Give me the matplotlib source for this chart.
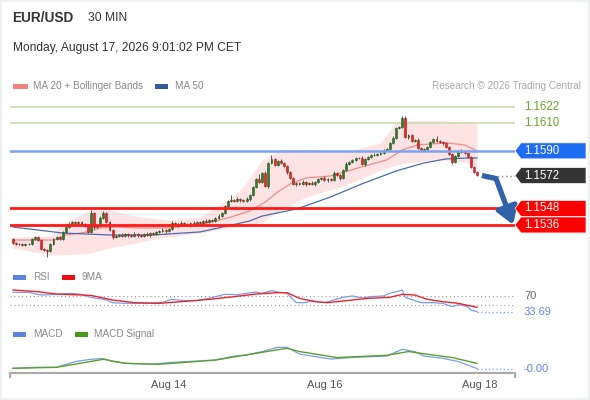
import numpy as np
import matplotlib.pyplot as plt
import matplotlib.transforms as mtransforms
from matplotlib.patches import Polygon, Rectangle

plt.rcParams['font.family'] = ['Liberation Sans', 'DejaVu Sans']

W, H = 590, 400

# ---- data ----
closes = [
    1.15228, 1.15221, 1.15221, 1.15214, 1.15221, 1.15221, 1.15258, 1.15272, 1.15250, 1.15185,
    1.15177, 1.15170, 1.15221, 1.15258, 1.15272, 1.15258, 1.15309, 1.15345, 1.15367, 1.15382,
    1.15374, 1.15382, 1.15367, 1.15353, 1.15309, 1.15447, 1.15345, 1.15353, 1.15411, 1.15447,
    1.15382, 1.15323, 1.15272, 1.15279, 1.15287, 1.15279, 1.15294, 1.15287, 1.15279, 1.15294,
    1.15287, 1.15279, 1.15294, 1.15287, 1.15301, 1.15294, 1.15309, 1.15316, 1.15323, 1.15316,
    1.15331, 1.15374, 1.15367, 1.15360, 1.15374, 1.15367, 1.15360, 1.15374, 1.15367, 1.15382,
    1.15374, 1.15389, 1.15382, 1.15396, 1.15389, 1.15411, 1.15425, 1.15447, 1.15498, 1.15535,
    1.15542, 1.15535, 1.15549, 1.15542, 1.15535, 1.15549, 1.15578, 1.15637, 1.15695, 1.15673,
    1.15739, 1.15644, 1.15812, 1.15841, 1.15797, 1.15826, 1.15812, 1.15790, 1.15746, 1.15702,
    1.15659, 1.15666, 1.15659, 1.15673, 1.15659, 1.15666, 1.15659, 1.15673, 1.15695, 1.15702,
    1.15688, 1.15695, 1.15688, 1.15739, 1.15724, 1.15702, 1.15761, 1.15804, 1.15819, 1.15834,
    1.15848, 1.15848, 1.15804, 1.15841, 1.15856, 1.15870, 1.15870, 1.15877, 1.15885, 1.15907,
    1.15914, 1.15958, 1.15994, 1.16067, 1.16074, 1.16140, 1.16001, 1.16016, 1.15972, 1.15979,
    1.15921, 1.15907, 1.15914, 1.15928, 1.15965, 1.15987, 1.15972, 1.15965, 1.15958, 1.15928,
    1.15877, 1.15819, 1.15863, 1.15899, 1.15892, 1.15885, 1.15856, 1.15783, 1.15746, 1.15724,
]
first_open = 1.15258

# wick lengths in pips beyond the candle body
upper_wick = [
    1, 0.5, 1, 0.5, 1, 0.5, 1, 1, 0.5, 1,
    0.5, 1, 1, 1, 0.5, 1, 1, 1, 1.5, 1,
    1, 1, 0.5, 1, 0.5, 2, 1, 1, 1.5, 1.5,
    1, 0.5, 1, 1, 1, 1.5, 1, 1, 1, 1.5,
    1, 1, 1, 1.5, 1, 1, 1, 1, 1.5, 1,
    1, 1.5, 1, 1, 1.5, 1, 1, 1, 1.5, 1,
    1, 1, 1.5, 1, 1, 1, 1.5, 1, 1, 1,
    3.5, 1, 1.5, 1, 1, 1.5, 1, 1, 1, 3.5,
    1, 1.5, 1, 3, 1, 1, 1.5, 1, 1, 1,
    1, 1, 1, 1.5, 1, 1, 1.5, 1, 1, 1,
    1.5, 1, 1, 1.5, 1, 1, 1, 1.5, 1, 1,
    1, 1, 1.5, 1, 1, 1, 1.5, 1, 1, 1,
    1, 1, 1.5, 1, 1, 1.5, 1.5, 1, 1, 1,
    1.5, 1, 1, 1, 1, 1, 2, 1, 1, 1,
    1, 1, 1, 1, 1.5, 1, 1, 1, 1, 1,
]
lower_wick = [
    1, 1, 0.5, 1, 1, 1, 0.5, 1, 1, 1,
    1, 4.5, 1, 1, 1, 1, 1, 0.5, 1, 1,
    1, 1, 1, 1, 1, 1, 1.5, 1, 1, 1,
    1, 1, 1.5, 1, 1, 1, 1, 1.5, 1, 1,
    1.5, 1, 1, 1, 1.5, 1, 1, 1, 1, 1.5,
    1, 1, 1, 1.5, 1, 1, 1, 1.5, 1, 1,
    1, 1.5, 1, 1, 1, 1, 1, 1, 1, 1,
    1, 1, 1, 1.5, 1, 1, 1.5, 1, 1, 1,
    1, 1, 1.5, 1, 1, 1, 1, 1, 1.5, 1,
    1, 1.5, 1, 1, 1.5, 1, 1, 1.5, 1, 1,
    1, 1.5, 1, 1, 1, 1.5, 1, 1, 1, 1,
    1, 1, 1, 1.5, 1, 1, 1, 1, 1, 1,
    1, 1, 1, 1, 1, 1, 1, 1.5, 1, 1,
    1, 1.5, 1, 1, 1, 1, 1, 1, 1.5, 1,
    1, 1.5, 1, 1, 1, 1, 1, 1, 1, 1,
]

ma20_idx = [0, 13, 17, 24, 28, 33, 41, 49, 60, 70, 76, 81, 85, 89, 94, 102, 112, 120, 125, 130, 139, 145, 149]
ma20_val = [1.15250, 1.15250, 1.15287, 1.15309, 1.15338, 1.15345, 1.15338, 1.15338, 1.15360, 1.15418,
            1.15462, 1.15527, 1.15600, 1.15659, 1.15702, 1.15717, 1.15783, 1.15834, 1.15907, 1.15943,
            1.15958, 1.15943, 1.15899]

ma50_idx = [0, 16, 31, 45, 60, 69, 76, 80, 91, 102, 112, 123, 132, 139, 146, 149]
ma50_val = [1.15345, 1.15301, 1.15287, 1.15287, 1.15309, 1.15353, 1.15389, 1.15425, 1.15476, 1.15564,
            1.15659, 1.15753, 1.15812, 1.15841, 1.15848, 1.15848]

bb_idx = [0, 12, 17, 25, 31, 39, 49, 60, 69, 73, 76, 80, 86, 92, 96, 107, 118, 123, 127, 134, 137, 145, 149]
bb_upper = [1.15272, 1.15279, 1.15382, 1.15469, 1.15469, 1.15425, 1.15396, 1.15418, 1.15542, 1.15615,
            1.15702, 1.15834, 1.15907, 1.15907, 1.15907, 1.15892, 1.15958, 1.16111, 1.16119, 1.16119,
            1.16119, 1.16111, 1.16103]
bb_lower = [1.15192, 1.15141, 1.15141, 1.15156, 1.15192, 1.15228, 1.15272, 1.15301, 1.15338, 1.15345,
            1.15353, 1.15382, 1.15469, 1.15542, 1.15578, 1.15651, 1.15761, 1.15797, 1.15812, 1.15834,
            1.15834, 1.15819, 1.15783]

rsi_idx = [0, 5, 9, 14, 19, 22, 25, 27, 30, 32, 36, 44, 48, 51, 55, 59, 63, 68, 72, 75,
           78, 80, 83, 85, 88, 91, 94, 96, 100, 103, 106, 109, 112, 115, 119, 121, 124, 125, 126, 129,
           131, 135, 138, 141, 143, 146, 147, 149]
rsi_val = [78.5, 78.5, 72.3, 73.9, 76.2, 73.9, 66.9, 64.6, 60.7, 54.6, 53.0, 53.0, 55.3, 62.3, 59.2, 59.2,
           64.6, 73.9, 73.1, 76.2, 79.3, 76.2, 82.3, 79.3, 76.2, 54.6, 54.6, 59.2, 54.6, 60.7, 66.9, 70.0,
           65.4, 68.5, 70.0, 76.2, 81.6, 83.9, 66.9, 59.2, 54.6, 54.6, 53.0, 45.3, 49.9, 45.3, 37.6, 33.69]

rsi_ma_idx = [0, 8, 14, 25, 32, 39, 47, 54, 63, 71, 78, 85, 88, 92, 97, 101, 107, 114, 121, 125, 129, 133, 138, 143, 149]
rsi_ma_val = [83.9, 80.0, 74.6, 71.5, 60.7, 54.6, 53.0, 56.9, 62.3, 68.5, 74.6, 77.7, 77.7, 64.6, 56.9,
              54.6, 59.2, 64.6, 66.9, 73.9, 72.3, 62.3, 56.9, 53.0, 43.8]

macd_idx = [0, 8, 14, 20, 25, 29, 32, 36, 44, 50, 56, 65, 71, 75, 80, 85, 88, 92, 97, 102,
            110, 120, 125, 129, 132, 138, 143, 149]
macd_val = [0.0, 0.00004, 0.00004, 0.00027, 0.00036, 0.00039, 0.00027, 0.00020, 0.00016, 0.00023,
            0.00027, 0.00033, 0.00049, 0.00053, 0.00067, 0.00084, 0.00084, 0.00057, 0.00047, 0.00037,
            0.00044, 0.00049, 0.00076, 0.00067, 0.00049, 0.00040, 0.00027, -0.00001]

signal_idx = [0, 14, 29, 36, 47, 65, 78, 88, 92, 104, 120, 127, 135, 141, 149]
signal_val = [0.0, 0.00004, 0.00036, 0.00020, 0.00016, 0.00033, 0.00060, 0.00080, 0.00067, 0.00043,
              0.00052, 0.00067, 0.00053, 0.00043, 0.00020]

resistances = [1.1622, 1.1610]
pivot = 1.1590
last_price = 1.1572
supports = [1.1548, 1.1536]
rsi_levels = [70, 50]
rsi_last = 33.69
macd_last = -0.00001
date_pos = [50, 100, 150]
date_labels = ['Aug 14', 'Aug 16', 'Aug 18']


def fx(px):
    return px / W


def fy(py):
    return 1 - py / H


fig = plt.figure(figsize=(5.9, 4.0), dpi=100)
fig.patch.set_facecolor('white')
fig.add_artist(Rectangle((0, 0), 1, 1, transform=fig.transFigure, fill=False,
                         edgecolor='#eef1f4', lw=3))


def panel(top, bottom):
    return fig.add_axes([fx(10), fy(bottom), fx(515) - fx(10), fy(top) - fy(bottom)])


XLIM = (-0.96, 161.2)
ax = panel(95, 262)
ax_rsi = panel(285, 320)
ax_macd = panel(340, 372.7)

# ---- price panel ----
c = np.array(closes)
o = np.concatenate([[first_open], c[:-1]])
idx = np.arange(len(c))
hi = np.maximum(o, c) + np.array(upper_wick) * 0.0001
lo = np.minimum(o, c) - np.array(lower_wick) * 0.0001
up = c >= o

ax.fill_between(bb_idx, bb_lower, bb_upper, color='#fde3e3', lw=0, zorder=1)
for lv in resistances:
    ax.axhline(lv, color='#cddfb5', lw=1.3, zorder=2)
ax.plot(ma20_idx, ma20_val, color='#f38a8a', lw=0.9, zorder=3)
ax.plot(ma50_idx, ma50_val, color='#4a6cb0', lw=0.9, zorder=3)

ax.vlines(idx, lo, hi, color='#555555', lw=0.7, zorder=4)
ax.bar(idx, np.maximum(np.abs(c - o), 0.00003), bottom=np.minimum(o, c), width=0.62,
       color=np.where(up, '#2e7b2e', '#e3261f'),
       edgecolor=np.where(up, '#1f5a1f', '#b01a15'), linewidth=0.4, zorder=5)

ax.axhline(pivot, color='#7aa3f2', lw=1.8, zorder=6)
for lv in supports:
    ax.axhline(lv, color='#ff1a1a', lw=2.0, zorder=6)

n = len(closes)
ax.plot([n + 3, XLIM[1]], [last_price, last_price], ls=(0, (1, 2)), color='#888888', lw=1, zorder=6)

# forecast arrow from the last close down to the lower support
arrow_col = '#2f62a8'
knee = (n + 5.1, last_price - 0.00022)
ax.plot([n + 0.6, knee[0]], [last_price, knee[1]], color=arrow_col, lw=3.8,
        solid_capstyle='butt', zorder=7, clip_on=False)
ax.annotate('', xy=(n + 10.6, supports[1] + 0.00002), xytext=knee,
            arrowprops=dict(arrowstyle='-|>,head_length=0.5,head_width=0.32', color=arrow_col,
                            lw=3.8, shrinkA=0, shrinkB=0, mutation_scale=20),
            annotation_clip=False, zorder=7)

ax.set_xlim(*XLIM)
ax.set_ylim(1.15090, 1.16307)
ax.axis('off')

trans = mtransforms.blended_transform_factory(fig.transFigure, ax.transData)
half = 8 * (1.16307 - 1.15090) / 167


def tag(level, color):
    pts = [(fx(515), level), (fx(521), level + half), (fx(586), level + half),
           (fx(586), level - half), (fx(521), level - half)]
    ax.add_patch(Polygon(pts, closed=True, transform=trans, facecolor=color,
                         edgecolor='white', lw=0.5, clip_on=False, zorder=8))
    ax.text(fx(524), level, f'{level:.4f}', transform=trans, color='white', fontsize=8.3,
            va='center', ha='left', zorder=9)


for lv in resistances:
    ax.text(fx(524), lv, f'{lv:.4f}', transform=trans, color='#6aa526', fontsize=8.3,
            va='center', ha='left')
tag(pivot, '#1f6cf4')
tag(last_price, '#333333')
for lv in supports:
    tag(lv, '#ff0000')
ax.set_xlim(*XLIM)
ax.set_ylim(1.15090, 1.16307)

# ---- RSI panel ----
for lv in rsi_levels:
    ax_rsi.axhline(lv, color='#999999', lw=0.8, ls=(0, (1, 2.5)))
ax_rsi.plot(rsi_idx, rsi_val, color='#7b9cec', lw=0.9)
ax_rsi.plot(rsi_ma_idx, rsi_ma_val, color='#e8262a', lw=1.0)
ax_rsi.plot([rsi_idx[-1], XLIM[1]], [rsi_last, rsi_last], color='#7b9cec', lw=0.9, ls=(0, (1, 2)))
ax_rsi.set_xlim(*XLIM)
ax_rsi.set_ylim(14.4, 95.5)
ax_rsi.axis('off')
trans_rsi = mtransforms.blended_transform_factory(fig.transFigure, ax_rsi.transData)
ax_rsi.text(fx(524), rsi_levels[0], f'{rsi_levels[0]}', transform=trans_rsi, color='#666666',
            fontsize=8, va='center')
ax_rsi.text(fx(524), rsi_last, f'{rsi_last:.2f}', transform=trans_rsi, color='#5f86e8',
            fontsize=8, va='center')

# ---- MACD panel ----
ax_macd.plot(macd_idx, macd_val, color='#7b9cec', lw=0.9)
ax_macd.plot(signal_idx, signal_val, color='#5aa02c', lw=1.0)
ax_macd.plot([macd_idx[-1], XLIM[1]], [macd_last, macd_last], color='#7b9cec', lw=0.9, ls=(0, (1, 2)))
ax_macd.set_xlim(*XLIM)
ax_macd.set_ylim(-0.000176, 0.001132)
for s in ['top', 'left', 'right']:
    ax_macd.spines[s].set_visible(False)
ax_macd.spines['bottom'].set_color('#aaaaaa')
ax_macd.spines['bottom'].set_linewidth(1.5)
ax_macd.set_yticks([])
ax_macd.set_xticks(date_pos)
ax_macd.set_xticklabels(date_labels, fontsize=8, color='#555555')
ax_macd.tick_params(axis='x', length=0, pad=5)
for xe in [0, 1]:
    ax_macd.plot([xe, xe], [0, -0.12], transform=ax_macd.transAxes, color='#aaaaaa', lw=1.5,
                 clip_on=False)
trans_macd = mtransforms.blended_transform_factory(fig.transFigure, ax_macd.transData)
ax_macd.text(fx(524), macd_last, f'{macd_last:.2f}', transform=trans_macd, color='#5f86e8',
             fontsize=8, va='center')
ax_macd.set_facecolor('none')

# ---- header and legends ----
fig.text(fx(12), fy(18), 'EUR/USD', fontsize=9.8, fontweight='bold', color='#333333', va='center')
fig.text(fx(88), fy(18), '30 MIN', fontsize=8.7, color='#333333', va='center')
fig.text(fx(13), fy(48), 'Monday, August 17, 2026 9:01:02 PM CET', fontsize=8.65, color='#333333',
         va='center')
fig.text(fx(581), fy(86), 'Research © 2026 Trading Central', fontsize=7.2, color='#aaaaaa',
         va='center', ha='right')


def legend_item(x0, x1, y, color, label, tx):
    fig.add_artist(Rectangle((fx(x0), fy(y + 2.5)), fx(x1) - fx(x0), fy(y - 2.5) - fy(y + 2.5),
                             transform=fig.transFigure, facecolor=color, edgecolor='none'))
    fig.text(fx(tx), fy(y), label, fontsize=7.2, color='#888888', va='center')


legend_item(13, 28, 86, '#f58282', 'MA 20 + Bollinger Bands', 33)
legend_item(155, 168, 86, '#345a9a', 'MA 50', 175)
legend_item(13, 26, 277, '#5b84e0', 'RSI', 33)
legend_item(62, 75, 277, '#e81010', '9MA', 81)
legend_item(13, 26, 334, '#5b84e0', 'MACD', 33)
legend_item(75, 88, 334, '#4a9a1a', 'MACD Signal', 94)

fig.savefig('out.png', dpi=100)
